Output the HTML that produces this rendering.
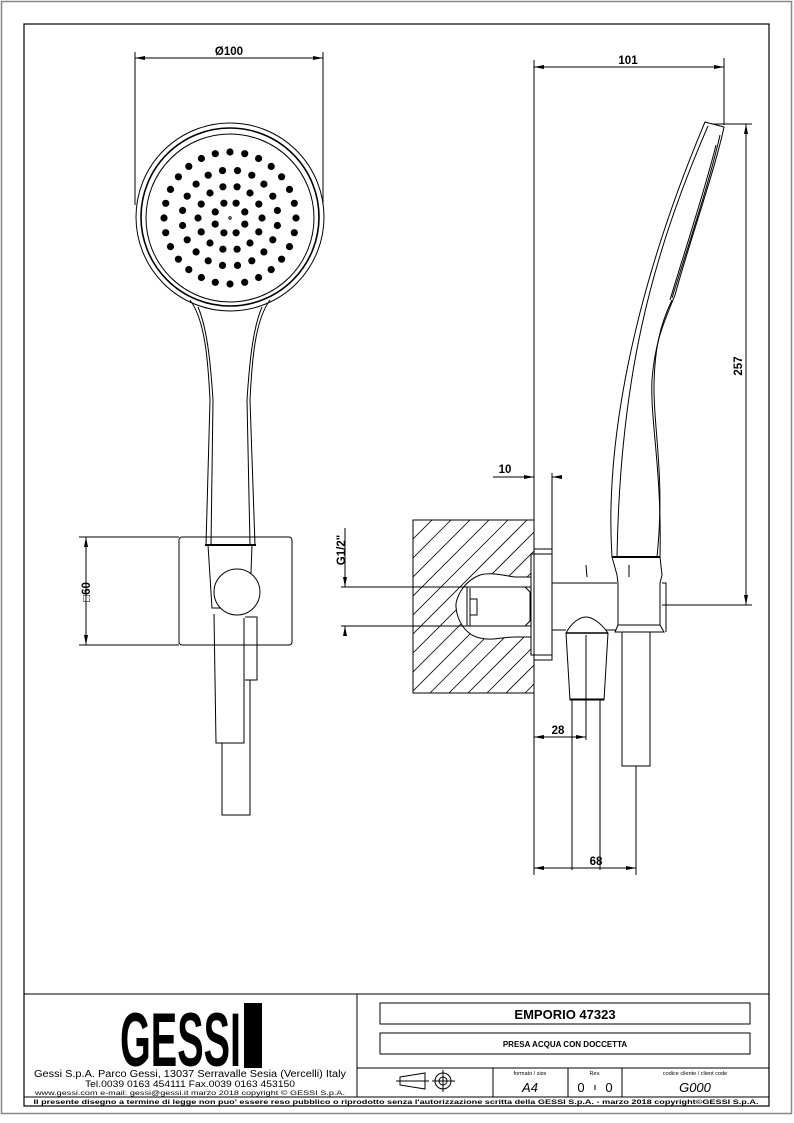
<!DOCTYPE html>
<html><head><meta charset="utf-8"><style>
html,body{margin:0;padding:0;background:#fff}
svg{display:block}
text{font-family:"Liberation Sans",sans-serif;fill:#000}
.d{font-weight:bold;font-size:11.5px}
</style></head><body>
<svg width="794" height="1123" viewBox="0 0 794 1123" xmlns="http://www.w3.org/2000/svg">
<defs>
<marker id="a" viewBox="0 0 10 4" refX="10" refY="2" markerWidth="10" markerHeight="4" orient="auto-start-reverse" markerUnits="userSpaceOnUse"><path d="M0,0L10,2L0,4z" fill="#000"/></marker>
<clipPath id="hc"><rect x="413" y="520" width="121" height="173"/></clipPath>
</defs>
<rect x="1.5" y="1.5" width="790" height="1112" fill="none" stroke="#888" stroke-width="1.5"/>
<rect x="24" y="24" width="745" height="1082" fill="none" stroke="#000" stroke-width="1.2"/>

<g fill="none" stroke="#000" stroke-width="1">
<line x1="135" y1="52" x2="135" y2="205"/>
<line x1="323" y1="52" x2="323" y2="205"/>
<line x1="135" y1="58" x2="323" y2="58" marker-start="url(#a)" marker-end="url(#a)"/>
<circle cx="230" cy="217" r="94"/>
<circle cx="230" cy="217" r="89" stroke-width="1.6"/>
<circle cx="230" cy="218" r="84"/>
<path d="M190,300 C205,320 208,360 210,400 L206,545 M270,300 C255,320 252,360 250,400 L255,545"/>
<path d="M198,307 C208,330 211,370 213,400 L211,545 M262,307 C252,330 249,370 247,400 L250,545"/>
<line x1="205" y1="545" x2="256" y2="545" stroke-width="2"/>
<rect x="179" y="537" width="113" height="108" rx="3"/>
<line x1="79" y1="537" x2="179" y2="537"/>
<line x1="79" y1="645" x2="179" y2="645"/>
<line x1="86" y1="537" x2="86" y2="645" marker-start="url(#a)" marker-end="url(#a)"/>
<path d="M208,545 L212,608 L226,608 M252,545 L250,600"/>
<circle cx="237" cy="592" r="23" fill="#fff"/>
<path d="M214,614 L216,743 L244,743 L244,618"/>
<path d="M245,617 L257,617 L257,680 L245,680"/>
<path d="M222,743 L222,815 L250,815 L250,680"/>

<line x1="534" y1="60" x2="534" y2="520"/>
<line x1="534" y1="693" x2="534" y2="875"/>
<line x1="724" y1="58" x2="724" y2="125"/>
<line x1="534" y1="67" x2="724" y2="67" marker-start="url(#a)" marker-end="url(#a)"/>
<line x1="708" y1="124" x2="752" y2="124"/>
<line x1="662" y1="605" x2="752" y2="605"/>
<line x1="746" y1="124" x2="746" y2="605" marker-start="url(#a)" marker-end="url(#a)"/>
<rect x="413" y="520" width="121" height="173"/>
<g clip-path="url(#hc)" stroke-width="0.8">
<path d="M413,539 L432,520 M413,558 L451,520 M413,577 L470,520 M413,596 L489,520 M413,615 L508,520 M413,634 L527,520 M413,653 L534,532 M413,672 L534,551 M413,691 L534,570 M430,693 L534,589 M449,693 L534,608 M468,693 L534,627 M487,693 L534,646 M506,693 L534,665 M525,693 L534,684"/>
</g>
<path d="M532,577 L515,577 C500,575 490,572 480,575 C462,582 455,600 456,607 C457,620 465,635 480,638 C492,641 502,637 515,637 L532,637 Z" fill="#fff"/>
<path d="M532,587 L467,587 L467,626 L532,626 M470,588 L470,626 M470,599 L477,599 L477,615 L470,615 M525,587 L530,592 L530,621 L525,626"/>
<line x1="341" y1="587" x2="534" y2="587"/>
<line x1="341" y1="626" x2="534" y2="626"/>
<line x1="345" y1="528" x2="345" y2="587" marker-end="url(#a)"/>
<line x1="345" y1="626" x2="345" y2="636" marker-start="url(#a)"/>
<rect x="534" y="549" width="18" height="111" fill="#fff"/>
<rect x="531" y="554" width="3" height="101" fill="#fff"/>
<line x1="534" y1="554" x2="552" y2="554"/>
<line x1="534" y1="655" x2="552" y2="655"/>
<line x1="552" y1="473" x2="552" y2="549"/>
<line x1="493" y1="477" x2="534" y2="477"/>
<line x1="524" y1="477" x2="534" y2="477" marker-end="url(#a)"/>
<line x1="562" y1="477" x2="552" y2="477" marker-end="url(#a)"/>
<path d="M552,583 L617,583 M552,630 L566,630 M605,630 L617,630"/>
<path d="M612,557 L617,575 L618,583 L618,625 L615,632 L664,632 L660,625 L660,583 L662,575 L660,557 Z" fill="#fff"/>
<path d="M618,625 L660,625"/>
<path d="M662,583 L666,583 L666,632"/>
<line x1="666" y1="605" x2="680" y2="605"/>
<line x1="586" y1="565" x2="587" y2="577"/>
<line x1="629" y1="565" x2="629" y2="577"/>
<path d="M566,633 C572,622 580,617 586,617 C592,617 600,622 608,633 L604,700 L570,700 Z" fill="#fff"/>
<line x1="566" y1="633" x2="608" y2="633" stroke-width="1.4"/>
<line x1="570" y1="699" x2="604" y2="699"/>
<line x1="586" y1="635" x2="586" y2="740"/>
<path d="M572,700 L572,870 M600,700 L600,870"/>
<path d="M622,632 L622,766 L650,766 L650,632"/>
<path d="M636,766 L636,875"/>
<line x1="534" y1="737" x2="586" y2="737" marker-start="url(#a)" marker-end="url(#a)"/>
<line x1="534" y1="868" x2="636" y2="868" marker-start="url(#a)" marker-end="url(#a)"/>
<path d="M705,122 L724,127 C715,170 690,240 675,295 C665,320 655,340 652,380 C650,420 662,470 660,557 L612,557 C605,450 630,300 705,122 Z" fill="#fff"/>
<path d="M708,126 C650,260 620,380 617,557"/>
<path d="M720,135 C710,180 690,240 672,298 M716,145 C705,190 685,250 670,300"/>
<path d="M672,300 C660,325 654,350 654,390 C654,430 665,480 657,557"/>
<line x1="612" y1="557" x2="660" y2="557" stroke-width="2"/>
<line x1="24" y1="994" x2="769" y2="994"/>
<line x1="357" y1="994" x2="357" y2="1097"/>
<line x1="24" y1="1097" x2="769" y2="1097"/>
<line x1="357" y1="1068" x2="769" y2="1068"/>
<line x1="493" y1="1068" x2="493" y2="1097"/>
<line x1="568" y1="1068" x2="568" y2="1097"/>
<line x1="622" y1="1068" x2="622" y2="1097"/>
<rect x="380" y="1003" width="370" height="21"/>
<rect x="380" y="1033" width="370" height="21"/>
<line x1="595" y1="1085" x2="595" y2="1090"/>
<path d="M400,1077 L425,1073 L425,1089 L400,1085 Z M396,1081 L429,1081"/>
<circle cx="443" cy="1081" r="8"/><circle cx="443" cy="1081" r="4"/>
<line x1="432" y1="1081" x2="455" y2="1081"/><line x1="443" y1="1070" x2="443" y2="1092"/>
</g>
<g fill="#000" id="dots"></g>
<text class="d" x="229" y="55" text-anchor="middle">Ø100</text>
<text class="d" x="628" y="64" text-anchor="middle">101</text>
<text class="d" x="505" y="473" text-anchor="middle">10</text>
<text class="d" x="558" y="734" text-anchor="middle">28</text>
<text class="d" x="596" y="865" text-anchor="middle">68</text>
<text class="d" text-anchor="middle" transform="translate(742,366) rotate(-90)">257</text>
<text class="d" text-anchor="middle" transform="translate(90,592) rotate(-90)">□60</text>
<text class="d" text-anchor="middle" transform="translate(345,550) rotate(-90)">G1/2"</text>
<rect x="244" y="1003" width="18" height="65" fill="#000"/>
<text x="120" y="1066" font-size="76" font-weight="bold" textLength="121" lengthAdjust="spacingAndGlyphs">GESSI</text>
<text x="190" y="1077" font-size="10" text-anchor="middle" textLength="312" lengthAdjust="spacingAndGlyphs">Gessi S.p.A. Parco Gessi, 13037 Serravalle Sesia (Vercelli) Italy</text>
<text x="190" y="1087" font-size="9" text-anchor="middle" textLength="210" lengthAdjust="spacingAndGlyphs">Tel.0039 0163 454111 Fax.0039 0163 453150</text>
<text x="190" y="1095" font-size="6.5" text-anchor="middle" textLength="310" lengthAdjust="spacingAndGlyphs">www.gessi.com e-mail: gessi@gessi.it   marzo 2018   copyright © GESSI S.p.A.</text>
<text x="396" y="1104" font-size="6.5" font-weight="bold" text-anchor="middle" textLength="725" lengthAdjust="spacingAndGlyphs">Il presente disegno a termine di legge non puo' essere reso pubblico o riprodotto senza l'autorizzazione scritta della GESSI S.p.A. - marzo 2018 copyright©GESSI S.p.A.</text>
<text x="565" y="1019" font-size="13" font-weight="bold" text-anchor="middle">EMPORIO  47323</text>
<text x="565" y="1047" font-size="8" font-weight="bold" text-anchor="middle">PRESA ACQUA CON DOCCETTA</text>
<text x="530" y="1075" font-size="5.5" text-anchor="middle">formato / size</text>
<text x="595" y="1075" font-size="5.5" text-anchor="middle">Rev.</text>
<text x="695" y="1075" font-size="5.5" text-anchor="middle">codice cliente / client code</text>
<text x="530" y="1092" font-size="13" font-style="italic" text-anchor="middle">A4</text>
<text x="581" y="1092" font-size="13" text-anchor="middle">0</text>
<text x="609" y="1092" font-size="13" text-anchor="middle">0</text>
<text x="695" y="1092" font-size="13" font-style="italic" text-anchor="middle">G000</text>
</svg>
<script>
(function(){var g=document.getElementById('dots'),ns='http://www.w3.org/2000/svg',cx=230,cy=218;
var rings=[[16,8,22.5],[32,14,0],[48,20,9],[66,28,0]];
rings.forEach(function(r){for(var i=0;i<r[1];i++){var t=(i/r[1])*2*Math.PI+r[2]*Math.PI/180;var c=document.createElementNS(ns,'circle');c.setAttribute('cx',(cx+r[0]*Math.cos(t)).toFixed(1));c.setAttribute('cy',(cy+r[0]*Math.sin(t)).toFixed(1));c.setAttribute('r','3.6');g.appendChild(c);}});
var c=document.createElementNS(ns,'circle');c.setAttribute('cx',cx);c.setAttribute('cy',cy);c.setAttribute('r','1.2');c.setAttribute('fill','none');c.setAttribute('stroke','#000');g.appendChild(c);})();
</script>
</body></html>
